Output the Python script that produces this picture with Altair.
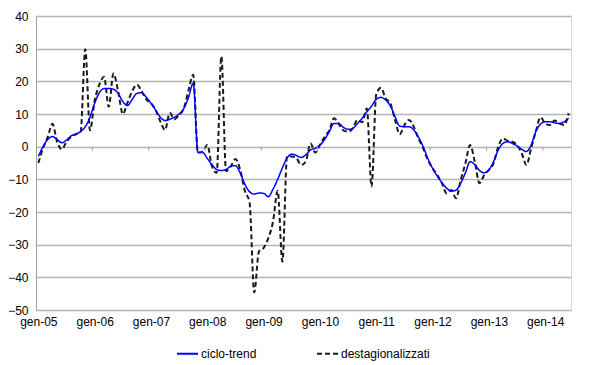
import altair as alt
import pandas as pd

year_labels = ["gen-05", "gen-06", "gen-07", "gen-08", "gen-09",
               "gen-10", "gen-11", "gen-12", "gen-13", "gen-14"]
series_names = ["ciclo-trend", "destagionalizzati"]
y_ticks = [-50, -40, -30, -20, -10, 0, 10, 20, 30, 40]

# monthly values, gen-05 .. giu-14
ciclo_trend = [
    -3, 0, 2.2, 3.1, 2.2, 1.2, 2, 3.3, 3.9, 4.6, 6.1, 9,
    13.3, 16.5, 17.8, 17.8, 17.6, 16.3, 13.8, 12.6, 14.5, 16.3, 16.5, 15.1,
    13.3, 11.2, 9, 8, 8.4, 9, 10, 11.7, 15.1, 19.4, -1.8, -1.8,
    -3.6, -5.5, -7, -7.3, -7, -6, -5.8, -8, -11.5, -13.8, -14.5, -14.2,
    -14.3, -15.3, -13, -10, -6.5, -3.5, -2.3, -2.7, -3.3, -2.5, -1, -0.5,
    0.5, 2.2, 4.6, 7.1, 7.1, 5.9, 5.3, 5.6, 7.1, 8.7, 10.7, 12.4,
    14.5, 15.1, 14.3, 12.5, 9.2, 6.3, 6.1, 6.1, 5.1, 2.9, 0, -3.6,
    -6.6, -9, -11, -12.7, -13.6, -13.3, -11.2, -8, -4.6, -5.5, -7.3, -8,
    -7.1, -4.6, -1, 1, 1.5, 1, 0.2, -0.8, -1.5, 0.5, 4.6, 6.9,
    7.6, 7.6, 7.3, 7.1, 7.6, 8.7,
]
destagionalizzati = [
    -5, -0.5, 3, 7, 1.5, -0.8, 1.5, 3, 3.8, 4.5, 29.8, 5,
    14, 19, 21.4, 12.2, 22.4, 17, 10, 13.5, 17, 19, 17, 14.5,
    13.3, 11.2, 7.7, 5.1, 10.4, 8.4, 9.7, 11.7, 17.3, 22, -1.8, -1.5,
    0.5, -6, -8, 27.6, -7.5, -6, -3.8, -7, -13.5, -17, -44.6, -32.1,
    -31, -28, -23, -13.5, -35.2, -3, -3, -3.5, -5.6, -4.5, 1, -1.8,
    0.5, 3, 5, 8.7, 7, 5, 4.6, 5.6, 8.2, 7.5, 11.7, -12.2,
    16, 18, 14.8, 13.3, 8.2, 3.8, 6.6, 8.2, 6.1, 2.5, -0.5, -4.1,
    -6.6, -8.7, -11.2, -14.3, -13.3, -15.8, -10.2, -5.1, 0.5, -4.6, -11.2, -8.7,
    -7.1, -5.1, 0, 2.5, 1.8, 1.5, 0.5, -2, -5.6, -0.5, 4.6, 9,
    7.1, 6.6, 8, 7.1, 6.6, 10.2,
]

n = len(ciclo_trend)
df_trend = pd.DataFrame({"pos": [i + 0.5 for i in range(n)],
                         "value": ciclo_trend, "serie": series_names[0]})
df_dest = pd.DataFrame({"pos": [i + 0.5 for i in range(n)],
                        "value": destagionalizzati, "serie": series_names[1]})
df_ticks = pd.DataFrame({"pos": [12 * k for k in range(1, 10)]})

label_pos = [0.5 + 12 * k for k in range(len(year_labels))]
label_expr = "[" + ",".join('"%s"' % s for s in year_labels) + "][round((datum.value - 0.5) / 12)]"

FONT = "Liberation Sans"
xscale = alt.Scale(domain=[0, n], nice=False, zero=False)
yscale = alt.Scale(domain=[-50, 40], nice=False, zero=False)

x_axis = alt.Axis(values=label_pos, labelExpr=label_expr, title=None,
                  grid=False, ticks=False, domain=False, labelOverlap=False,
                  labelFont=FONT, labelFontSize=12, labelColor="#000000",
                  labelPadding=6, labelFlush=False)
y_axis = alt.Axis(values=y_ticks, title=None, grid=True, gridColor="#b4b4b4",
                  gridWidth=1.3, ticks=False, domain=True, domainColor="#a0a0a0",
                  labelOverlap=False, labelFont=FONT, labelFontSize=12,
                  labelColor="#000000", labelPadding=8)

legend_cfg = dict(title=None, orient="none", legendX=140, legendY=326,
                  direction="horizontal", symbolType="stroke", symbolSize=441,
                  symbolStrokeWidth=2, labelFont=FONT, labelFontSize=12,
                  labelColor="#000000", columnPadding=56, labelOffset=2)

color = alt.Color("serie:N",
                  scale=alt.Scale(domain=series_names, range=["#0000ff", "#1a1a1a"]),
                  legend=alt.Legend(**legend_cfg))
dash = alt.StrokeDash("serie:N",
                      scale=alt.Scale(domain=series_names, range=[[1, 0], [5, 3]]),
                      legend=alt.Legend(**legend_cfg))

x_enc = alt.X("pos:Q", scale=xscale, axis=x_axis)
y_enc = alt.Y("value:Q", scale=yscale, axis=y_axis)

dest_line = alt.Chart(df_dest).mark_line(strokeWidth=2, interpolate="monotone").encode(
    x=x_enc, y=y_enc, color=color, strokeDash=dash)
trend_line = alt.Chart(df_trend).mark_line(strokeWidth=1.5, interpolate="monotone").encode(
    x=x_enc, y=y_enc, color=color, strokeDash=dash)
ticks = alt.Chart(df_ticks).mark_rule(color="#a0a0a0", strokeWidth=1).encode(
    x=alt.X("pos:Q", scale=xscale, axis=x_axis),
    y=alt.YDatum(0, scale=yscale, axis=y_axis),
    y2=alt.Y2Datum(-1.3))

chart = alt.layer(dest_line, trend_line, ticks).properties(
    width=535, height=294,
    autosize=alt.AutoSizeParams(type="none"),
    padding={"left": 28, "top": 8, "right": 21, "bottom": 55},
).configure_view(stroke="#a0a0a0", strokeWidth=1).configure(background="white")

chart.save("out.html", embed_options={"renderer": "svg", "actions": False})
